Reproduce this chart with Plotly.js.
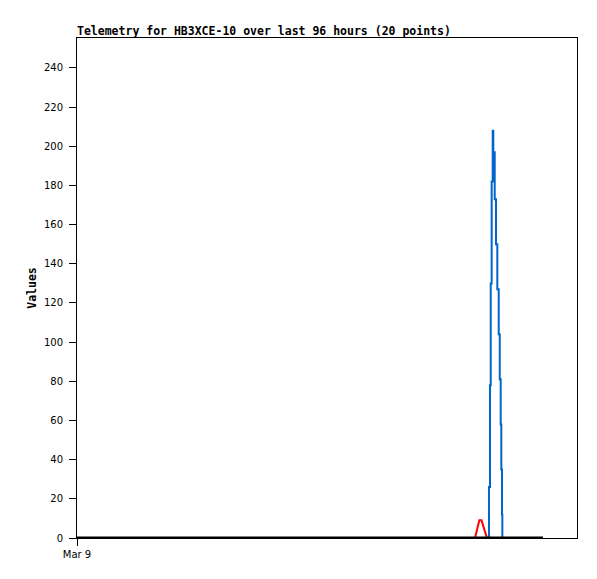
<!DOCTYPE html>
<html><head><meta charset="utf-8">
<script src="https://cdn.plot.ly/plotly-3.0.1.min.js"></script>
<style>html,body{margin:0;padding:0;background:#fff;}</style>
</head><body>
<div id="chart" style="width:597px;height:579px;"></div>
<script>
const titleText = "Telemetry for HB3XCE-10 over last 96 hours (20 points)";
const yTitle = "Values";
const xRange = ["2024-03-09 00:00", "2024-03-13 00:00"];
const xTickVals = ["2024-03-09 00:00"];
const xTickText = ["Mar 9"];
const yTickVals = [0,20,40,60,80,100,120,140,160,180,200,220,240];

const redTimes = ["2024-03-12 04:25","2024-03-12 05:15","2024-03-12 05:40","2024-03-12 06:43"];
const redValues = [0, 9, 9, 0];

const blueTimes = ["2024-03-12 07:06","2024-03-12 07:18","2024-03-12 07:26","2024-03-12 07:37","2024-03-12 07:49","2024-03-12 07:56","2024-03-12 08:12","2024-03-12 08:27","2024-03-12 08:42","2024-03-12 08:58","2024-03-12 09:10","2024-03-12 09:21","2024-03-12 09:28","2024-03-12 09:36","2024-03-12 09:40","2024-03-12 09:43"];
const blueValues = [0, 26, 78, 130, 182, 208, 197, 173, 150, 127, 104, 81, 58, 35, 12, 0];

const blackTimes = ["2024-03-09 00:00","2024-03-12 17:28"];
const blackValues = [0, 0];

const traces = [
  {x: redTimes, y: redValues, type: 'scatter', mode: 'lines', line: {color: '#FF0000', width: 2}, hoverinfo: 'skip'},
  {x: blueTimes, y: blueValues, type: 'scatter', mode: 'lines', line: {color: '#0066CC', width: 2, shape: 'vh'}, hoverinfo: 'skip'},
  {x: blackTimes, y: blackValues, type: 'scatter', mode: 'lines', line: {color: '#000000', width: 3}, hoverinfo: 'skip'}
];

const layout = {
  width: 597, height: 579,
  margin: {l: 77, r: 20, t: 38, b: 41, pad: 0},
  paper_bgcolor: '#fff', plot_bgcolor: '#fff',
  showlegend: false,
  title: {text: titleText, x: 77/597, xanchor: 'left', xref: 'container', y: 1 - 31/579, yanchor: 'middle',
    font: {family: 'DejaVu Sans Mono', size: 11.5, color: '#000', weight: 'bold'}},
  xaxis: {type: 'date', range: xRange, tickmode: 'array', tickvals: xTickVals, ticktext: xTickText,
    showgrid: false, zeroline: false, showline: true, linecolor: '#000', linewidth: 1, mirror: true,
    ticks: 'outside', ticklen: 7, tickcolor: '#000', tickwidth: 1,
    tickfont: {family: 'DejaVu Sans', size: 10, color: '#000'}},
  yaxis: {range: [0, 255.3], tickmode: 'array', tickvals: yTickVals,
    showgrid: false, zeroline: false, showline: true, linecolor: '#000', linewidth: 1, mirror: true,
    ticks: 'outside', ticklen: 7, tickcolor: '#000', tickwidth: 1, ticklabelstandoff: 4,
    tickfont: {family: 'DejaVu Sans', size: 10, color: '#000'},
    title: {text: yTitle, standoff: 4, font: {family: 'DejaVu Sans Mono', size: 11.5, color: '#000', weight: 'bold'}}}
};

Plotly.newPlot('chart', traces, layout, {displayModeBar: false, staticPlot: true});
</script>
</body></html>
